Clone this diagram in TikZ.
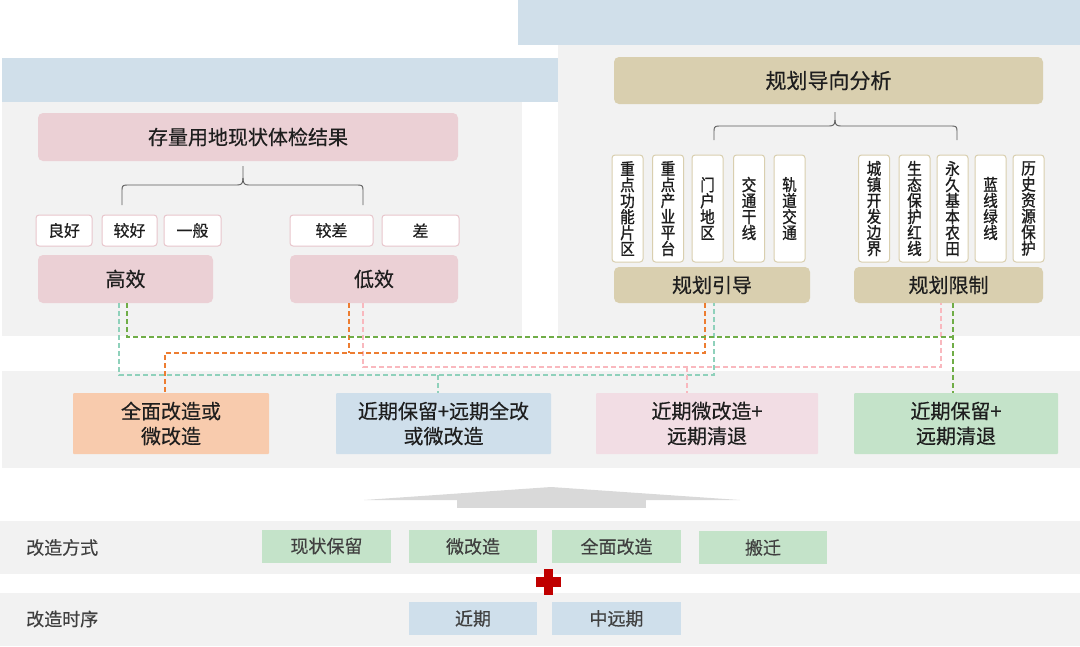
\documentclass[tikz,border=0pt]{standalone}
\usepackage{fontspec}
\setmainfont[FakeBold=0.4]{Noto Sans CJK SC}
\newfontfamily\vertfont[FakeBold=1.2,FakeStretch=0.88]{Noto Sans CJK SC}
\usetikzlibrary{calc}
\definecolor{bandblue}{HTML}{D0DFEA}
\definecolor{panelgrey}{HTML}{F2F2F2}
\definecolor{pinkfill}{HTML}{EBD0D5}
\definecolor{pinkline}{HTML}{E8C6CC}
\definecolor{tanfill}{HTML}{D9CFAF}
\definecolor{orangefill}{HTML}{F8CBAD}
\definecolor{bluefill}{HTML}{CFDFEB}
\definecolor{pinkout}{HTML}{F2DDE4}
\definecolor{greenfill}{HTML}{C4E3C9}
\definecolor{arrowgrey}{HTML}{D9D9D9}
\definecolor{crossred}{HTML}{C00000}
\definecolor{dgreen}{HTML}{70AD47}
\definecolor{dorange}{HTML}{ED7D31}
\definecolor{dteal}{HTML}{8FD1BB}
\definecolor{dpink}{HTML}{F9B8BE}
\definecolor{txt}{HTML}{1E1E1E}
\definecolor{txtb}{HTML}{404040}
\definecolor{bracecol}{HTML}{595959}
\tikzset{
  box/.style={inner sep=0pt, outer sep=0pt, anchor=center, text=txt, align=center},
  pinkbox/.style={box, fill=pinkfill, rounded corners=5pt, font=\fontsize{20}{24}\selectfont},
  smallbox/.style={box, fill=white, draw=pinkline, line width=1pt, rounded corners=3pt, minimum height=31pt, font=\fontsize{16}{19}\selectfont},
  tanbox/.style={box, fill=tanfill, rounded corners=5pt, font=\fontsize{20}{24}\selectfont},
  vertbox/.style={box, fill=white, draw=tanfill, line width=1pt, rounded corners=3pt, minimum width=31pt, minimum height=107pt, font=\vertfont\fontsize{16.5}{16}\selectfont},
  outbox/.style={box, rounded corners=1pt, minimum height=61pt, font=\fontsize{20}{25}\selectfont},
  lowbox/.style={box, minimum width=128pt, minimum height=33pt, text=txtb, font=\fontsize{18}{21}\selectfont},
  rowlabel/.style={inner sep=0pt, anchor=west, text=txtb, font=\fontsize{18}{21}\selectfont},
  bracestyle/.style={draw=bracecol, line width=0.9pt},
  dashbase/.style={dash pattern=on 5pt off 3pt},
  gdash/.style={dashbase, draw=dgreen, line width=1.6pt},
  odash/.style={dashbase, draw=dorange, line width=1.6pt},
  tdash/.style={dashbase, draw=dteal, line width=1.2pt},
  pdash/.style={dashbase, draw=dpink, line width=1.2pt}
}
\begin{document}
\begin{tikzpicture}[x=1pt,y=-1pt]
\useasboundingbox (0,0) rectangle (1080,646);
% background panels
\fill[bandblue] (518,0) rectangle (1080,45);
\fill[bandblue] (2,58) rectangle (560,102);
\fill[panelgrey] (2,102) rectangle (522,336);
\fill[panelgrey] (558,45) rectangle (1080,336);
\fill[panelgrey] (2,371) rectangle (1080,468);
\fill[panelgrey] (0,521) rectangle (1080,574);
\fill[panelgrey] (0,593) rectangle (1080,646);

% left block
\node[pinkbox, minimum width=420pt, minimum height=48pt] (title) at (248,137) {存量用地现状体检结果};
\draw[bracestyle] (122,205) -- (122,190) .. controls (122,186) and (123,185) .. (127,185) -- (237,185) .. controls (241,185) and (243,184) .. (243,178) -- (243,166);
\draw[bracestyle] (243,178) .. controls (243,184) and (245,185) .. (249,185) -- (358,185) .. controls (362,185) and (363,186) .. (363,190) -- (363,205);
\node[smallbox, minimum width=56pt] (lianghao) at (64,230.5) {良好};
\node[smallbox, minimum width=55pt] (jiaohao) at (129.5,230.5) {较好};
\node[smallbox, minimum width=57pt] (yiban) at (192.5,230.5) {一般};
\node[smallbox, minimum width=83pt] (jiaocha) at (331.5,230.5) {较差};
\node[smallbox, minimum width=77pt] (cha) at (420.5,230.5) {差};
\node[pinkbox, minimum width=175pt, minimum height=48pt] (gaoxiao) at (125.5,279) {高效};
\node[pinkbox, minimum width=168pt, minimum height=48pt] (dixiao) at (374,279) {低效};

% right block
\node[tanbox, minimum width=429pt, minimum height=47pt, font=\fontsize{21}{25}\selectfont] (guihua) at (828.5,80.5) {规划导向分析};
\draw[bracestyle] (714,140) -- (714,131) .. controls (714,127) and (715,126) .. (719,126) -- (829,126) .. controls (833,126) and (835,125) .. (835,120) -- (835,112);
\draw[bracestyle] (835,120) .. controls (835,125) and (837,126) .. (841,126) -- (952,126) .. controls (956,126) and (957,127) .. (957,131) -- (957,140);
\node[vertbox] (v1) at (627.5,208.5) {重\\点\\功\\能\\片\\区};
\node[vertbox] (v2) at (668,208.5) {重\\点\\产\\业\\平\\台};
\node[vertbox] (v3) at (707.5,208.5) {门\\户\\地\\区};
\node[vertbox] (v4) at (749,208.5) {交\\通\\干\\线};
\node[vertbox] (v5) at (789.5,208.5) {轨\\道\\交\\通};
\node[vertbox] (v6) at (874,208.5) {城\\镇\\开\\发\\边\\界};
\node[vertbox] (v7) at (914.5,208.5) {生\\态\\保\\护\\红\\线};
\node[vertbox] (v8) at (952.5,208.5) {永\\久\\基\\本\\农\\田};
\node[vertbox] (v9) at (990.5,208.5) {蓝\\线\\绿\\线};
\node[vertbox] (v10) at (1028.5,208.5) {历\\史\\资\\源\\保\\护};
\node[tanbox, minimum width=196pt, minimum height=36pt] (yindao) at (712,285) {规划引导};
\node[tanbox, minimum width=189pt, minimum height=36pt] (xianzhi) at (948.5,285) {规划限制};

% outcome boxes
\node[outbox, fill=orangefill, minimum width=196pt] (out1) at (171,423.5) {全面改造或\\微改造};
\node[outbox, fill=bluefill, minimum width=215pt] (out2) at (443.5,423.5) {近期保留+远期全改\\或微改造};
\node[outbox, fill=pinkout, minimum width=222pt] (out3) at (707,423.5) {近期微改造+\\远期清退};
\node[outbox, fill=greenfill, minimum width=204pt] (out4) at (956,423.5) {近期保留+\\远期清退};

% dashed connectors
\coordinate (g1) at (127,337);
\coordinate (g2) at (953,337);
\coordinate (o1) at (165,353);
\coordinate (o2) at (349,353);
\coordinate (o3) at (705,353);
\coordinate (p1) at (363,367);
\coordinate (p2) at (687,367);
\coordinate (p3) at (941,367);
\coordinate (t1) at (119,375);
\coordinate (t2) at (438,375);
\coordinate (t3) at (714,375);
\draw[tdash] (gaoxiao.south -| t1) -- (t1) -- (t3) -- (yindao.south -| t3);
\draw[tdash] (t2) -- (out2.north -| t2);
\draw[pdash] (dixiao.south -| p1) -- (p1) -- (p3) -- (xianzhi.south -| p3);
\draw[pdash] (p2) -- (out3.north -| p2);
\draw[odash] (dixiao.south -| o2) -- (o2);
\draw[odash] (yindao.south -| o3) -- (o3) -- (o1) -- (out1.north -| o1);
\draw[gdash] (gaoxiao.south -| g1) -- (g1) -- (g2);
\draw[gdash] (xianzhi.south -| g2) -- (out4.north -| g2);

% arrow
\fill[arrowgrey] (364,500) -- (551,487) -- (740,500) -- cycle;
\fill[arrowgrey] (457,499) rectangle (646,508);

% bottom rows
\node[rowlabel] (lab1) at (26,547.5) {改造方式};
\node[rowlabel] (lab2) at (26,619) {改造时序};
\node[lowbox, fill=greenfill, minimum width=129pt] (m1) at (326.5,546) {现状保留};
\node[lowbox, fill=greenfill] (m2) at (473,546.5) {微改造};
\node[lowbox, fill=greenfill, minimum width=129pt] (m3) at (616.5,546.5) {全面改造};
\node[lowbox, fill=greenfill] (m4) at (763,547.5) {搬迁};
\node[lowbox, fill=bluefill] (s1) at (473,618.5) {近期};
\node[lowbox, fill=bluefill, minimum width=129pt] (s2) at (616.5,618.5) {中远期};
% red cross
\fill[crossred] (544,569) rectangle (553,595);
\fill[crossred] (536,577) rectangle (561,587);
\end{tikzpicture}
\end{document}
